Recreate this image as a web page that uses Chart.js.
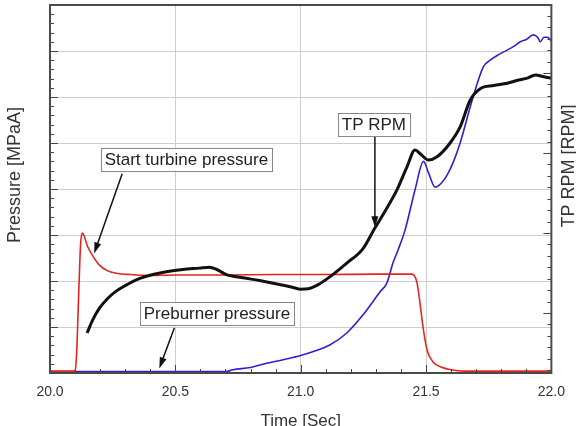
<!DOCTYPE html>
<html>
<head>
<title>Start transient - pressures and TP RPM</title>
<script src="https://cdn.jsdelivr.net/npm/chart.js@4.4.1/dist/chart.umd.min.js"></script>
<style>
  html, body { margin: 0; padding: 0; background: #fff; }
  #container { width: 576px; height: 426px; }
</style>
</head>
<body>
<div id="container"><canvas id="canvas"></canvas></div>
<script>

// time axis labels
var timeTicks = [20.0, 20.5, 21.0, 21.5, 22.0];

// TP RPM (black), plotted on the pressure grid
var rpmTime = [20.148, 20.17, 20.196, 20.23, 20.264, 20.31, 20.356, 20.41, 20.464, 20.53, 20.596, 20.636, 20.665, 20.704,
               20.77, 20.836, 20.92, 20.97, 21.0, 21.03, 21.07, 21.116, 21.184, 21.248, 21.296, 21.34, 21.384, 21.424,
               21.456, 21.48, 21.51, 21.544, 21.596, 21.636, 21.676, 21.716, 21.77, 21.824, 21.87, 21.904, 21.936, 21.97, 22.0];
var rpmValue = [0.87, 1.15, 1.4, 1.62, 1.78, 1.93, 2.05, 2.14, 2.2, 2.25, 2.28, 2.3, 2.25, 2.14,
                2.07, 2.01, 1.92, 1.86, 1.82, 1.83, 1.92, 2.09, 2.39, 2.7, 3.15, 3.55, 3.98, 4.48,
                4.85, 4.75, 4.63, 4.7, 5.0, 5.35, 5.93, 6.18, 6.25, 6.3, 6.37, 6.41, 6.48, 6.44, 6.41];

// start turbine pressure (red)
var turbineTime = [20.0, 20.1, 20.106, 20.115, 20.122, 20.129, 20.15, 20.17, 20.196, 20.23, 20.264, 20.32, 20.4, 20.5,
                   20.7, 20.9, 21.1, 21.3, 21.444, 21.464, 21.476, 21.488, 21.504, 21.528, 21.56, 21.6, 21.65, 22.0];
var turbinePress = [0.04, 0.04, 0.4, 1.8, 2.8, 3.04, 2.75, 2.55, 2.35, 2.22, 2.17, 2.14, 2.12, 2.13,
                    2.13, 2.14, 2.14, 2.15, 2.15, 1.96, 1.52, 1.0, 0.5, 0.24, 0.13, 0.07, 0.04, 0.04];

// preburner pressure (blue)
var preburnerTime = [20.0, 20.7, 20.73, 20.8, 20.864, 20.93, 21.0, 21.048, 21.116, 21.184, 21.248, 21.316, 21.344,
                     21.368, 21.388, 21.416, 21.456, 21.49, 21.51, 21.536, 21.56, 21.584, 21.61, 21.636, 21.684,
                     21.728, 21.756, 21.79, 21.824, 21.85, 21.876, 21.9, 21.928, 21.945, 21.956, 21.97, 21.984, 22.0];
var preburnerPress = [0.03, 0.03, 0.07, 0.12, 0.21, 0.29, 0.38, 0.46, 0.61, 0.87, 1.26, 1.76, 1.96,
                      2.39, 2.67, 3.1, 3.98, 4.6, 4.35, 4.04, 4.12, 4.3, 4.6, 5.0, 5.93,
                      6.65, 6.8, 6.92, 7.02, 7.1, 7.2, 7.25, 7.35, 7.3, 7.2, 7.3, 7.3, 7.22];

// call-out labels: text, box centre and arrow, in data units
var noteText = ['Start turbine pressure', 'TP RPM', 'Preburner pressure'];
var noteBox = [[20.544, 4.65], [21.292, 5.4], [20.666, 1.29]];
var noteArrowFrom = [[20.288, 4.33], [21.296, 5.13], [20.496, 0.98]];
var noteArrowTo = [[20.176, 2.6], [21.296, 3.17], [20.436, 0.1]];

function pairs(xs, ys) {
  var out = [];
  for (var i = 0; i < xs.length; i++) out.push({x: xs[i], y: ys[i]});
  return out;
}

var fontFamily = "'Liberation Sans', Arial, Helvetica, sans-serif";

// frame, inside tick marks, call-outs and y titles
var decorPlugin = {
  id: 'decor',
  afterDraw: function(chart) {
    var ctx = chart.ctx;
    var a = chart.chartArea;
    var xs = chart.scales.x, ys = chart.scales.y, y2 = chart.scales.y2;
    var i, p, len;

    ctx.save();
    ctx.strokeStyle = '#444';
    ctx.lineWidth = 1;
    ctx.beginPath();
    // bottom ticks, every 0.1 s
    for (i = 0; i <= 20; i++) {
      p = Math.round(xs.getPixelForValue(20 + i * 0.1)) + 0.5;
      len = (i % 5 == 0) ? 8 : 4;
      ctx.moveTo(p, a.bottom);
      ctx.lineTo(p, a.bottom - len);
    }
    // left ticks, every 0.2
    for (i = 0; i <= 40; i++) {
      p = Math.round(ys.getPixelForValue(i * 0.2)) + 0.5;
      len = (i % 5 == 0) ? 8 : 4;
      ctx.moveTo(a.left, p);
      ctx.lineTo(a.left + len, p);
    }
    // right ticks
    for (i = -5; i <= 27; i++) {
      var v = i / 7;
      if (v < y2.min || v > y2.max) continue;
      p = Math.round(y2.getPixelForValue(v)) + 0.5;
      len = (i % 7 == 0) ? 8 : 4;
      ctx.moveTo(a.right, p);
      ctx.lineTo(a.right - len, p);
    }
    ctx.stroke();

    // frame
    ctx.strokeStyle = '#4a4a4a';
    ctx.lineWidth = 2;
    ctx.strokeRect(a.left, a.top, a.right - a.left, a.bottom - a.top);

    // call-outs
    ctx.font = '17px ' + fontFamily;
    ctx.textAlign = 'center';
    ctx.textBaseline = 'middle';
    for (i = 0; i < noteText.length; i++) {
      var fx = xs.getPixelForValue(noteArrowFrom[i][0]), fy = ys.getPixelForValue(noteArrowFrom[i][1]);
      var tx = xs.getPixelForValue(noteArrowTo[i][0]), ty = ys.getPixelForValue(noteArrowTo[i][1]);
      var ang = Math.atan2(ty - fy, tx - fx);
      ctx.strokeStyle = '#111';
      ctx.fillStyle = '#111';
      ctx.lineWidth = 1.5;
      ctx.beginPath();
      ctx.moveTo(fx, fy);
      ctx.lineTo(tx - 6 * Math.cos(ang), ty - 6 * Math.sin(ang));
      ctx.stroke();
      ctx.beginPath();
      ctx.moveTo(tx, ty);
      ctx.lineTo(tx - 11 * Math.cos(ang) + 3.5 * Math.sin(ang), ty - 11 * Math.sin(ang) - 3.5 * Math.cos(ang));
      ctx.lineTo(tx - 11 * Math.cos(ang) - 3.5 * Math.sin(ang), ty - 11 * Math.sin(ang) + 3.5 * Math.cos(ang));
      ctx.closePath();
      ctx.fill();

      var cx = xs.getPixelForValue(noteBox[i][0]), cy = ys.getPixelForValue(noteBox[i][1]);
      var w = ctx.measureText(noteText[i]).width + 8, h = 23;
      ctx.fillStyle = '#fff';
      ctx.fillRect(cx - w / 2, cy - h / 2, w, h);
      ctx.strokeStyle = '#888';
      ctx.lineWidth = 1;
      ctx.strokeRect(Math.round(cx - w / 2) + 0.5, Math.round(cy - h / 2) + 0.5, Math.round(w), h);
      ctx.fillStyle = '#222';
      ctx.fillText(noteText[i], cx, cy + 1);
    }

    // y titles, both reading bottom to top
    ctx.font = '18px ' + fontFamily;
    ctx.fillStyle = '#333';
    ctx.save();
    ctx.translate(15, 175);
    ctx.rotate(-Math.PI / 2);
    ctx.fillText('Pressure [MPaA]', 0, 0);
    ctx.restore();
    ctx.save();
    ctx.translate(569, 166);
    ctx.rotate(-Math.PI / 2);
    ctx.fillText('TP RPM [RPM]', 0, 0);
    ctx.restore();

    ctx.restore();
  }
};

var ctx = document.getElementById('canvas').getContext('2d');
window.myChart = new Chart(ctx, {
  type: 'line',
  data: {
    datasets: [
      { label: 'TP RPM', data: pairs(rpmTime, rpmValue), borderColor: '#111', borderWidth: 3,
        pointRadius: 0, cubicInterpolationMode: 'monotone', fill: false },
      { label: 'Start turbine pressure', data: pairs(turbineTime, turbinePress), borderColor: '#e3241f', borderWidth: 1.6,
        pointRadius: 0, cubicInterpolationMode: 'monotone', fill: false },
      { label: 'Preburner pressure', data: pairs(preburnerTime, preburnerPress), borderColor: '#2f22cc', borderWidth: 1.6,
        pointRadius: 0, cubicInterpolationMode: 'monotone', fill: false }
    ]
  },
  options: {
    responsive: true,
    maintainAspectRatio: false,
    animation: false,
    layout: { padding: { top: 5, left: 0, right: 0, bottom: 0 } },
    plugins: { legend: { display: false }, tooltip: { enabled: false } },
    scales: {
      x: {
        type: 'linear', min: 20, max: 22,
        afterBuildTicks: function(s) { s.ticks = timeTicks.map(function(v) { return {value: v}; }); },
        afterFit: function(s) { s.height = 53; },
        ticks: { padding: 11, color: '#333', font: { size: 14, family: fontFamily },
                 callback: function(v) { return v.toFixed(1); } },
        grid: { color: '#cdcdcd', drawTicks: false },
        border: { display: false },
        title: { display: true, text: 'Time [Sec]', color: '#333', padding: { top: 0, bottom: -6 },
                 font: { size: 17, family: fontFamily } }
      },
      y: {
        position: 'left', min: 0, max: 8,
        afterFit: function(s) { s.width = 50; },
        ticks: { display: false, stepSize: 1 },
        grid: { color: '#cdcdcd', drawTicks: false },
        border: { display: false }
      },
      y2: {
        position: 'right', min: -0.75, max: 3.85,
        afterFit: function(s) { s.width = 24; },
        ticks: { display: false },
        grid: { display: false },
        border: { display: false }
      }
    }
  },
  plugins: [decorPlugin]
});

</script>
</body>
</html>
